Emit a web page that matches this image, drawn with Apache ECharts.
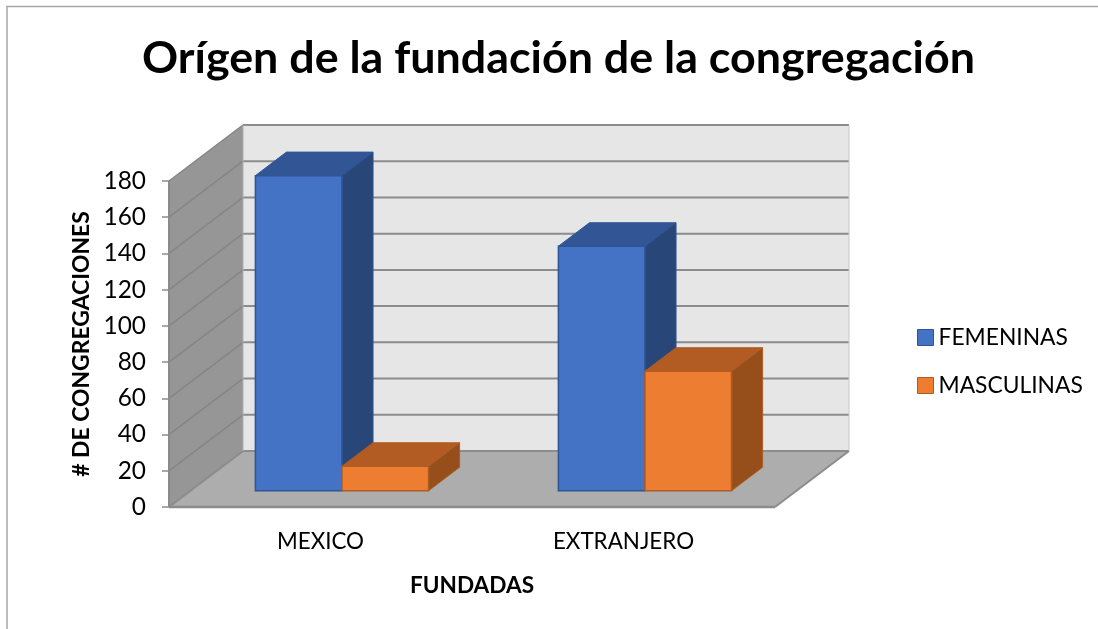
<!DOCTYPE html>
<html><head><meta charset="utf-8">
<style>html,body{margin:0;padding:0;background:#fff}#c{width:1098px;height:629px}</style>
<script src="https://cdn.jsdelivr.net/npm/echarts@6/dist/echarts.min.js"></script>
</head><body><div id="c"></div>
<script>
const titleText = 'Orígen de la fundación de la congregación';
const categories = ['MEXICO', 'EXTRANJERO'];
const femeninas = [174, 135];
const masculinas = [13.5, 66];
const yMax = 180, yStep = 20;
const yTicks = [0,20,40,60,80,100,120,140,160,180];
const FONT = 'Lato';
const DX = 74, DY = -56;            // oblique projection of the full chart depth
const GAP_DEPTH = 0.29, BAR_DEPTH = 0.42;

function poly(points, fill, stroke, lw) {
  return {type:'polygon', shape:{points}, style:{fill, stroke: stroke||'none', lineWidth: lw||0}};
}
function line(a, b, stroke, lw) {
  return {type:'line', shape:{x1:a[0],y1:a[1],x2:b[0],y2:b[1]}, style:{stroke, lineWidth:lw}};
}
function wallsItem(params, api) {
  const cs = params.coordSys;
  const x0 = cs.x, x1 = cs.x + cs.width;
  const y0 = api.coord([0, 0])[1], yT = api.coord([0, yMax])[1];
  const ch = [
    poly([[x0+DX,yT+DY],[x1+DX,yT+DY],[x1+DX,y0+DY],[x0+DX,y0+DY]], '#e6e6e6'),
    poly([[x0,yT],[x0+DX,yT+DY],[x0+DX,y0+DY],[x0,y0]], '#969696'),
    poly([[x0,y0],[x0+DX,y0+DY],[x1+DX,y0+DY],[x1,y0]], '#adadad')
  ];
  yTicks.forEach(v => {
    const y = api.coord([0, v])[1];
    if (v > 0) ch.push(line([x0,y],[x0+DX,y+DY],'#858585',1.5));
    ch.push(line([x0+DX,y+DY],[x1+DX,y+DY],'#8c8c8c',2));
  });
  ch.push(line([x0,y0],[x0,yT],'#8a8a8a',2));
  ch.push(line([x0,y0],[x1,y0],'#8c8c8c',2.5));
  ch.push(line([x0,y0],[x0+DX,y0+DY],'#8c8c8c',2));
  ch.push(line([x1,y0],[x1+DX,y0+DY],'#8c8c8c',2));
  ch.push(line([x0+DX,yT+DY],[x0+DX,y0+DY],'#b0b0b0',1));
  ch.push(line([x1+DX,yT+DY],[x1+DX,y0+DY],'#c8c8c8',1));
  return {type:'group', children:ch};
}
function barRenderer(seriesIndex, colors) {
  return function (params, api) {
    const c = api.coord([api.value(0), api.value(1)]);
    const base = api.coord([api.value(0), 0]);
    const band = api.size([1, 0])[0];
    const w = band / 3.5;
    const ox = DX * GAP_DEPTH, oy = DY * GAP_DEPTH;
    const dx = DX * BAR_DEPTH, dy = DY * BAR_DEPTH;
    const l = c[0] - w + seriesIndex * w + ox, r = l + w;
    const t = c[1] + oy, b = base[1] + oy;
    return {type:'group', children:[
      poly([[l,t],[l+dx,t+dy],[r+dx,t+dy],[r,t]], colors.top, colors.edge, 1),
      poly([[r,t],[r+dx,t+dy],[r+dx,b+dy],[r,b]], colors.side, colors.edge, 1),
      poly([[l,t],[r,t],[r,b],[l,b]], colors.front, colors.edge, 1.5)
    ]};
  };
}
const blue = {front:'#4472c4', top:'#325595', side:'#284678', edge:'#2f5597'};
const orange = {front:'#ed7d31', top:'#b25b22', side:'#964f1b', edge:'#b05c22'};
const toPairs = arr => arr.map((v,i) => [i,v]);

const chart = echarts.init(document.getElementById('c'), null, {renderer:'canvas'});
chart.setOption({
  animation:false,
  backgroundColor:'#fff',
  textStyle:{fontFamily:FONT},
  title:{text:titleText, left:137, top:31,
    textStyle:{fontFamily:FONT, fontWeight:'bold', fontSize:44.8, color:'#000'}},
  graphic:[
    {type:'polyline', silent:true, shape:{points:[[7,629],[7,6.5],[1098,6.5]]},
     style:{stroke:'#a6a6a6', lineWidth:1.5, fill:'none'}}
  ],
  legend:{
    orient:'vertical', left:912, top:321, itemWidth:16, itemHeight:16, itemGap:25,
    icon:'rect', selectedMode:false,
    textStyle:{fontFamily:FONT, fontSize:22.8, color:'#000', padding:[0,0,0,0]},
    data:[
      {name:'FEMENINAS', itemStyle:{color:blue.front, borderColor:blue.edge, borderWidth:1}},
      {name:'MASCULINAS', itemStyle:{color:orange.front, borderColor:orange.edge, borderWidth:1}}
    ]
  },
  grid:{left:169, right:323, top:181, bottom:122, containLabel:false},
  xAxis:{type:'category', data:categories,
    axisLine:{show:false}, axisTick:{show:false}, splitLine:{show:false},
    axisLabel:{fontFamily:FONT, fontSize:22.4, color:'#000', margin:24},
    name:'FUNDADAS', nameLocation:'middle', nameGap:67,
    nameTextStyle:{fontFamily:FONT, fontWeight:'bold', fontSize:22.6, color:'#000'}},
  yAxis:{type:'value', min:0, max:yMax, interval:yStep,
    axisLine:{show:false}, splitLine:{show:false},
    axisTick:{show:true, length:7, lineStyle:{color:'#8c8c8c', width:1.5}},
    axisLabel:{fontFamily:FONT, fontSize:24.4, color:'#000', margin:23, padding:[3,0,0,0]},
    name:'# DE CONGREGACIONES', nameLocation:'middle', nameGap:76, nameRotate:90,
    nameTextStyle:{fontFamily:FONT, fontWeight:'bold', fontSize:22.9, color:'#000'}},
  series:[
    {name:'walls', type:'custom', silent:true, renderItem:wallsItem, data:[[0,0]], z:1,
     encode:{x:0,y:1}},
    {name:'FEMENINAS', type:'custom', renderItem:barRenderer(0,blue), data:toPairs(femeninas), z:2,
     itemStyle:{color:blue.front}, encode:{x:0,y:1}},
    {name:'MASCULINAS', type:'custom', renderItem:barRenderer(1,orange), data:toPairs(masculinas), z:3,
     itemStyle:{color:orange.front}, encode:{x:0,y:1}}
  ]
});
</script></body></html>
